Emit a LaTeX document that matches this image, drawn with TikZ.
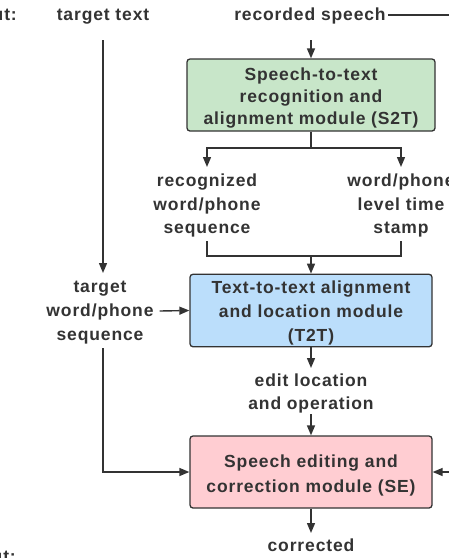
\documentclass[tikz,border=0pt]{standalone}
\usepackage{fontspec}
\setmainfont{Liberation Sans}[LetterSpace=5]
\usetikzlibrary{arrows.meta,calc}
\definecolor{ink}{HTML}{333333}
\definecolor{gfill}{HTML}{C8E6C9}
\definecolor{bfill}{HTML}{BBDEFB}
\definecolor{pfill}{HTML}{FFCDD2}
\begin{document}
\begin{tikzpicture}[x=1pt,y=-1pt,
  every node/.style={font=\fontsize{17.5}{23}\selectfont\bfseries, text=ink, align=center, inner sep=0pt},
  txt/.style={anchor=base, font=\fontsize{17.5}{#1}\selectfont\bfseries},
  modbox/.style={draw=ink, line width=1.3pt, rounded corners=3pt, minimum width=#1},
  ln/.style={draw=ink, line width=1.4pt},
  arr/.style={ln, -{Triangle[length=10pt,width=8pt]}}]
\useasboundingbox (0,0) rectangle (449,558);
\clip (0,0) rectangle (449,558);
% labels
\node[txt=23, anchor=base east] (inp) at (17,20.7) {Input:};
\node[txt=23, anchor=base east] (outp) at (16,562) {Output:};
\node[txt=23] (tt) at (103,20.7) {target text};
\node[txt=23] (rs) at (310,20.7) {recorded speech};
% modules
\node[modbox=248pt, fill=gfill, minimum height=72pt] (s2t) at (311,95) {};
\node[txt=22] (s2tT) at (311,124) {Speech-to-text\\recognition and\\alignment module (S2T)};
\node[modbox=242pt, fill=bfill, minimum height=72.5pt] (t2t) at (311,310.5) {};
\node[txt=24] (t2tT) at (311,341) {Text-to-text alignment\\and location module\\(T2T)};
\node[modbox=242pt, fill=pfill, minimum height=72pt] (se) at (311,472) {};
\node[txt=25] (seT) at (311,492) {Speech editing and\\correction module (SE)};
% intermediate labels
\node[txt=23.3] (rec) at (207,233.3) {recognized\\word/phone\\sequence};
\node[txt=23.3] (ts) at (401,233.3) {word/phone\\level time\\stamp};
\node[txt=23.7] (tw) at (100,340) {target\\word/phone\\sequence};
\node[txt=22.7] (ed) at (311,409.3) {edit location\\and operation};
\node[txt=23] (cor) at (311,551.7) {corrected};
% coordinates
\coordinate (rsend) at (460,15);
\coordinate (sp) at (311,148);
\coordinate (mg) at (311,256);
\coordinate (rin) at (460,472);
% connectors
\draw[ln] (rs.east |- 0,15) ++(2pt,0) -- (rsend);
\draw[arr] (s2t.north |- 0,40) -- (s2t.north);
\draw[ln] (s2t.south) -- (sp);
\draw[arr] (sp) -| (rec.north |- 0,167);
\draw[arr] (sp) -| (ts.north |- 0,167);
\draw[ln] (rec.south |- 0,241) |- (mg);
\draw[ln] (ts.south |- 0,241) |- (mg);
\draw[arr] (mg) -- (t2t.north);
\draw[arr] (tt.south |- 0,40) -- (tt.south |- 0,273);
\draw[arr] (tw.east |- 0,311) ++(6pt,0) -- (t2t.west);
\draw[arr] (tt.south |- 0,348) |- (se.west);
\draw[arr] (t2t.south) -- (t2t.south |- 0,368);
\draw[arr] (ed.south |- 0,414) -- (se.north);
\draw[arr] (rin) -- (se.east);
\draw[arr] (se.south) -- (se.south |- 0,533);
\end{tikzpicture}
\end{document}
